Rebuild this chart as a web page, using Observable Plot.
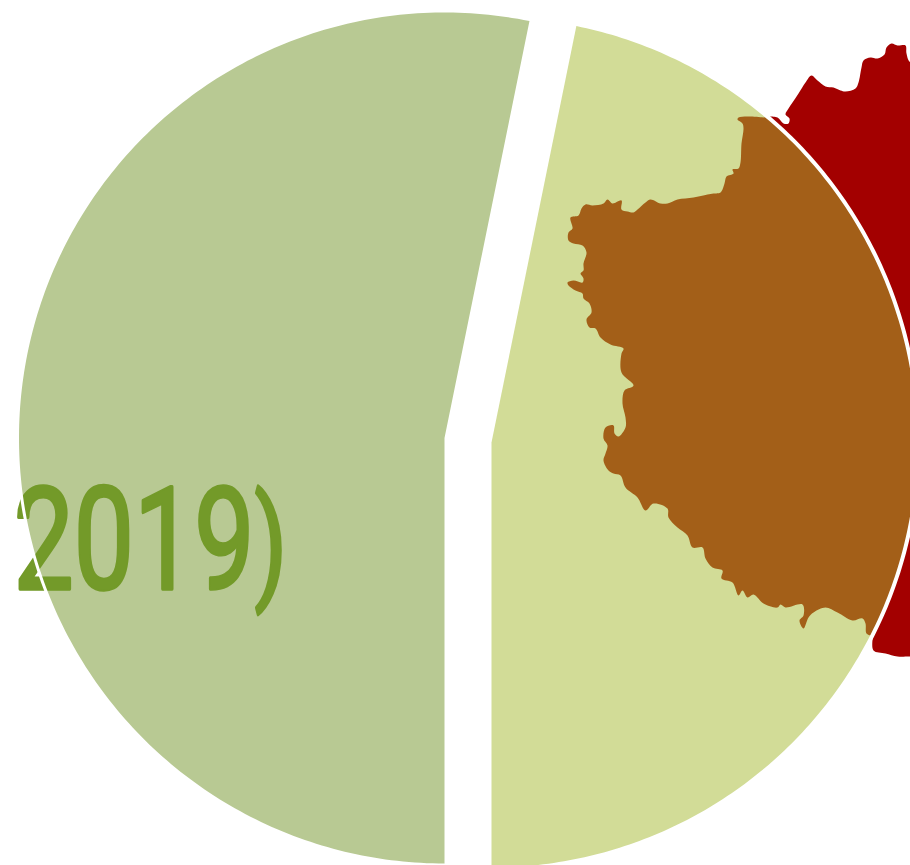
<!DOCTYPE html>
<html><head><meta charset="utf-8">
<script src="https://cdn.jsdelivr.net/npm/d3@7"></script>
<script src="https://cdn.jsdelivr.net/npm/@observablehq/plot@0.6"></script>
<style>html,body{margin:0;padding:0;background:#fff;overflow:hidden}</style>
</head><body><div id="chart"></div>
<script>
const sliceShares = [53.2, 46.8];
const sliceColors = ["#b8c993", "#d2dc97"];
const sliceCenters = [[444, 437.5], [491, 442]];
const pieRadius = 427;
const labelDigits = "2019";
const labelParen = ")";
const labelPos = [[13, 588]];
const mapOutline = [
[770,116],[777,117],[783,123],[788,123],[789,118],[785,114],[788,108],[792,102],[798,93],[805,82],[811,75],[817,80],[825,86],[833,87],[840,90],[845,91],[855,88],[858,82],[861,67],[863,60],[870,57],[877,58],[884,54],[886,47],[891,43],[897,45],[905,45],[906,53],[910,62],
[950,62],[950,656],[910,656],[897,656],[885,653],[873,650],[872,638],
[872,636],[866,633],[865,623],[862,618],[852,620],[837,612],[825,607],[813,612],[808,617],[803,628],[799,620],[803,615],[802,604],[785,607],[780,604],[777,607],[763,603],[753,594],[747,597],[742,590],[738,595],[732,582],[721,578],[722,570],[712,567],[705,558],[702,547],[692,547],[687,535],[677,527],[668,517],[667,508],[653,503],[645,510],[637,497],
[625,487],[620,475],[613,473],[608,470],[603,460],[605,453],[607,445],[603,438],[605,427],[613,425],[614,433],[618,436],[625,427],[625,417],[622,403],[624,390],[633,385],[621,372],[621,353],[623,348],[610,344],[600,337],[595,328],[589,327],[586,319],[591,312],[589,303],[583,298],[582,293],[575,290],[568,285],[567,282],[573,280],[582,282],[583,278],
[580,273],[583,270],[583,263],[586,252],[582,245],[573,243],[568,240],[568,232],[572,228],[570,217],[578,215],[581,208],[585,204],[592,205],[603,203],[607,199],[612,203],[621,200],[621,209],[627,211],[633,212],[637,209],[645,202],[650,199],[660,203],[667,203],[677,199],[693,197],[707,194],[713,193],[720,192],[724,183],[726,176],[733,173],[732,169],[738,168],[740,162],[741,143],[743,128],[742,123],[737,119],[738,117],[750,116],[763,117]
];

const arcs = d3.pie().sort(null).startAngle(Math.PI).endAngle(3 * Math.PI)(sliceShares);
function sliceArc(arc, [cx, cy], r) {
  const pts = [];
  const n = 240;
  for (let i = 0; i <= n; i++) {
    const a = arc.startAngle + (arc.endAngle - arc.startAngle) * i / n;
    pts.push([cx + r * Math.sin(a), cy - r * Math.cos(a)]);
  }
  return pts;
}
const rims = arcs.map((a, i) => sliceArc(a, sliceCenters[i], pieRadius));
const slices = rims.map((rim, i) => [sliceCenters[i], ...rim, sliceCenters[i]]);

let uid = 0;
const clipToRightSlice = (index, scales, values, dimensions, context, next) => {
  const g = next(index, scales, values, dimensions, context);
  const id = "slice-clip-" + (++uid);
  const cp = d3.create("svg:clipPath").attr("id", id);
  cp.append("path").attr("d", d3.line().x(d => scales.x(d[0])).y(d => scales.y(d[1]))(slices[1]));
  g.insertBefore(cp.node(), g.firstChild);
  g.setAttribute("clip-path", `url(#${id})`);
  return g;
};
// The label is a tall condensed face: squeeze Roboto horizontally, with a smaller closing bracket.
const condense = (index, scales, values, dimensions, context, next) => {
  const g = next(index, scales, values, dimensions, context);
  g.querySelectorAll("text").forEach(t => {
    t.setAttribute("transform", `${t.getAttribute("transform") || ""} scale(0.75,1)`);
    t.textContent = "";
    d3.select(t).append("tspan").text(labelDigits);
    d3.select(t).append("tspan").attr("font-size", 125).attr("dy", -3).text(labelParen);
  });
  return g;
};

const plot = Plot.plot({
  width: 910, height: 865,
  margin: 0,
  x: {domain: [0, 910], range: [0, 910], axis: null},
  y: {domain: [0, 865], range: [0, 865], axis: null},
  style: {overflow: "hidden", background: "#fff"},
  marks: [
    Plot.line(mapOutline, {x: d => d[0], y: d => d[1], fill: "#a30000", stroke: "none", curve: "catmull-rom"}),
    Plot.line(slices[0], {x: d => d[0], y: d => d[1], fill: sliceColors[0], stroke: "none"}),
    Plot.line(slices[1], {x: d => d[0], y: d => d[1], fill: sliceColors[1], stroke: "none"}),
    Plot.line(mapOutline, {x: d => d[0], y: d => d[1], fill: "#a35f18", stroke: "none", curve: "catmull-rom", render: clipToRightSlice}),
    Plot.text([labelDigits + labelParen], {x: () => labelPos[0][0], y: () => labelPos[0][1], text: d => d, fill: "#739a29",
      fontFamily: "Roboto", fontSize: 143, fontWeight: 400, stroke: "#739a29", strokeWidth: 3.5, textAnchor: "start", lineAnchor: "bottom", render: condense}),
    Plot.line(rims[0], {x: d => d[0], y: d => d[1], stroke: "#fff", strokeWidth: 3, fill: "none"}),
    Plot.line(rims[1], {x: d => d[0], y: d => d[1], stroke: "#fff", strokeWidth: 4, fill: "none"})
  ]
});
document.getElementById("chart").append(plot);
</script></body></html>
